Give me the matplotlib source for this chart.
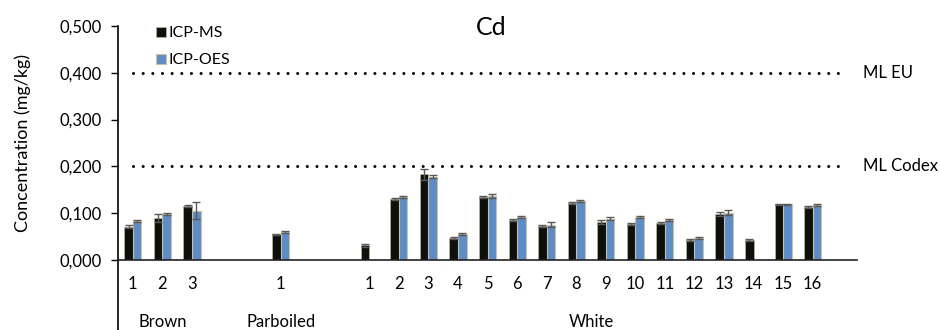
import numpy as np
import matplotlib
matplotlib.use("Agg")
from matplotlib import pyplot as plt

plt.rcParams['font.family'] = ['Lato', 'DejaVu Sans']

# data
groups = ['Brown', 'Parboiled', 'White']
group_sizes = [3, 1, 16]
ms_vals = [0.071, 0.089, 0.115,
           0.054,
           0.031, 0.130, 0.183, 0.046, 0.135, 0.085, 0.072, 0.121,
           0.081, 0.077, 0.078, 0.042, 0.098, 0.042, 0.119, 0.112]
ms_err = [0.003, 0.008, 0.003,
          0.002,
          0.003, 0.002, 0.012, 0.002, 0.002, 0.002, 0.002, 0.002,
          0.004, 0.002, 0.002, 0.002, 0.005, 0.002, 0.001, 0.002]
oes_vals = [0.082, 0.097, 0.105,
            0.059,
            np.nan, 0.134, 0.178, 0.055, 0.137, 0.091, 0.075, 0.125,
            0.088, 0.091, 0.085, 0.047, 0.101, np.nan, 0.119, 0.118]
oes_err = [0.002, 0.002, 0.018,
           0.002,
           0.0, 0.002, 0.003, 0.002, 0.004, 0.002, 0.005, 0.002,
           0.004, 0.002, 0.003, 0.002, 0.005, 0.0, 0.001, 0.002]
ml_eu = 0.4
ml_codex = 0.2
gap = 2  # empty slots between groups

# category positions
pos = []
labels = []
centers = []
start = 0
for n in group_sizes:
    idx = list(range(start, start + n))
    pos += idx
    labels += [str(i + 1) for i in range(n)]
    centers.append((idx[0] + idx[-1]) / 2)
    start += n + gap
pos = np.array(pos, dtype=float)
last = pos[-1] + 1

fs = 12
fig = plt.figure(figsize=(9.39, 3.3), dpi=100)
ax = fig.add_axes([0.1257, 0.213, 0.787, 0.708])

w = 0.29
ekw = dict(ecolor='#595959', elinewidth=1.0, capsize=3, capthick=1.0)
ax.bar(pos - w / 2, ms_vals, w, yerr=ms_err, color='#0e100e',
       edgecolor='#bdb89c', linewidth=0.5, label='ICP-MS', error_kw=ekw, zorder=2)
ax.bar(pos + w / 2, oes_vals, w, yerr=oes_err, color='#5b8dcb',
       edgecolor='#cfc296', linewidth=0.8, label='ICP-OES', error_kw=ekw, zorder=2)

dot = dict(color='black', linewidth=2.2, linestyle=(0, (0.01, 3.15)),
           dash_capstyle='round', zorder=3)
ax.plot([pos[0], last], [ml_eu, ml_eu], **dot)
ax.plot([pos[0], last], [ml_codex, ml_codex], **dot)
ax.text(last + 0.7, ml_eu, 'ML EU', fontsize=fs, va='center', ha='left')
ax.text(last + 0.7, ml_codex, 'ML Codex', fontsize=fs, va='center', ha='left')

ax.set_xlim(-0.5, last + 0.5)
ax.set_ylim(0, 0.5)
ax.set_yticks(np.arange(0, 0.51, 0.1))
ax.set_yticklabels([f'{v:.3f}'.replace('.', ',') for v in np.arange(0, 0.51, 0.1)])
ax.tick_params(axis='y', direction='out', length=5, width=1, labelsize=fs, pad=7)
ax.set_xticks(pos)
ax.set_xticklabels(labels)
ax.tick_params(axis='x', length=0, pad=12, labelsize=fs)
for g, c in zip(groups, centers):
    ax.text(c, -0.265, g, transform=ax.get_xaxis_transform(), fontsize=fs,
            ha='center', va='center')

for s in ['top', 'right']:
    ax.spines[s].set_visible(False)
ax.spines['left'].set_linewidth(1.2)
ax.spines['bottom'].set_linewidth(1.2)
ax.spines['bottom'].set_color('#222222')
ax.plot([0, 0], [0, -0.31], transform=ax.transAxes, color='black',
        linewidth=1.2, clip_on=False)

ax.set_ylabel('Concentration (mg/kg)', fontsize=13, labelpad=20)
ax.set_title('Cd', fontsize=18, y=0.925, x=0.505)

leg = ax.legend(loc='upper left', bbox_to_anchor=(0.032, 1.06), frameon=False,
                fontsize=11.5, handlelength=0.6, handleheight=0.6, handletextpad=0.2,
                labelspacing=0.8)

fig.savefig('out.png', dpi=100)
